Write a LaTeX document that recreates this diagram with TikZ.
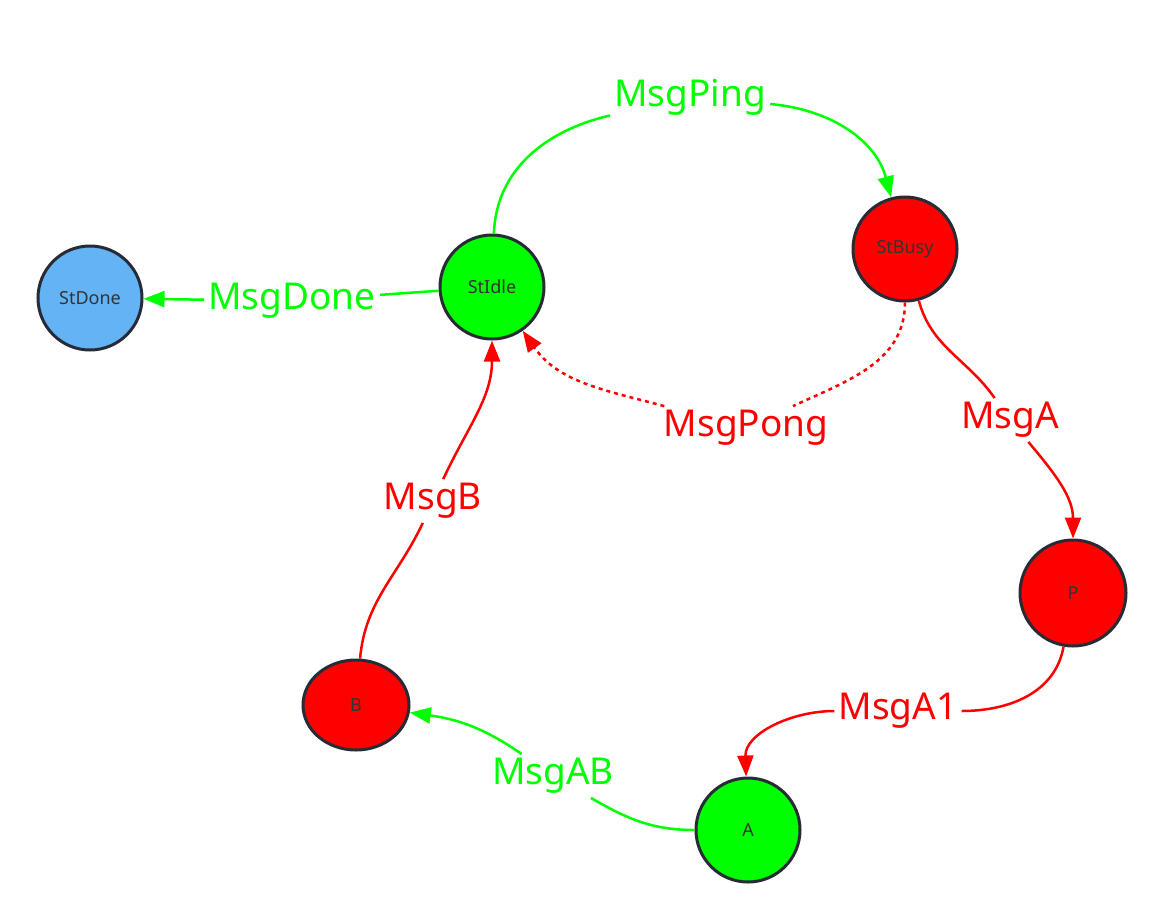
\documentclass[tikz,border=0pt]{standalone}
\usepackage{fontspec}
\setmainfont{Noto Sans}
\usetikzlibrary{arrows.meta,shapes.geometric}
\definecolor{stgreen}{RGB}{0,255,0}
\definecolor{stred}{RGB}{255,0,0}
\definecolor{stblue}{RGB}{99,179,245}
\definecolor{stborder}{RGB}{38,43,53}
\definecolor{sttext}{RGB}{51,51,51}

\begin{document}
\begin{tikzpicture}[x=1pt,y=-1pt,>={Triangle[length=21pt,width=16pt]},line width=2.5pt,
		state node/.style={circle,draw=stborder,line width=3pt,minimum size=104pt,inner sep=0pt,
			text=sttext,font=\fontsize{18}{20}\selectfont},
		msg/.style={inner sep=3pt,font=\fontsize{37}{40}\selectfont},
		pong line/.style={dash pattern=on 4pt off 4pt}]
		\useasboundingbox (0,0) rectangle (1162,919);
		% states
		\node[state node,fill=stblue] (StDone) at (90,298) {StDone};
		\node[state node,fill=stgreen] (StIdle) at (492,287) {StIdle};
		\node[state node,fill=stred] (StBusy) at (905,249) {StBusy};
		\node[state node,fill=stred,minimum size=106pt] (P) at (1073,593) {P};
		\node[state node,fill=stgreen] (A) at (748,830) {A};
		\node[state node,ellipse,fill=stred,minimum width=106pt,minimum height=90pt] (B) at (356,705) {B};
		% messages
		\node[msg,text=stgreen] (ping) at (690,97) {MsgPing};
		\node[msg,text=stgreen] (done) at (292,301) {MsgDone};
		\node[msg,text=stred] (pong) at (746,428) {MsgPong};
		\node[msg,text=stred] (msga) at (1010,420) {MsgA};
		\node[msg,text=stred] (msga1) at (898,711) {MsgA1};
		\node[msg,text=stgreen] (msgab) at (553,776) {MsgAB};
		\node[msg,text=stred] (msgb) at (433,501) {MsgB};
		
		\draw[stgreen] (StIdle) to[out=88,in=193] (ping);
		\draw[stgreen,->] (ping) to[out=-5,in=105] (StBusy);
		\draw[stgreen] (StIdle) -- (done);
		\draw[stgreen,->] (done) -- (StDone);
		\draw[stred,pong line] (StBusy) to[out=-90,in=25] (pong);
		\draw[stred,pong line,->] (pong) to[out=165,in=-55] (StIdle);
		\draw[stred] (StBusy) to[out=-75,in=125] (msga);
		\draw[stred,->] (msga) to[out=-50,in=90] (P);
		\draw[stred] (P) to[out=-100,in=0] (msga1);
		\draw[stred,->] (msga1) to[out=180,in=92] (A);
		\draw[stgreen] (A) to[out=180,in=-30] (msgab);
		\draw[stgreen,->] (msgab) to[out=145,in=-8] (B);
		\draw[stred] (B) to[out=85,in=-115] (msgb);
		\draw[stred,->] (msgb) to[out=65,in=-90] (StIdle);
\end{tikzpicture}
\end{document}
